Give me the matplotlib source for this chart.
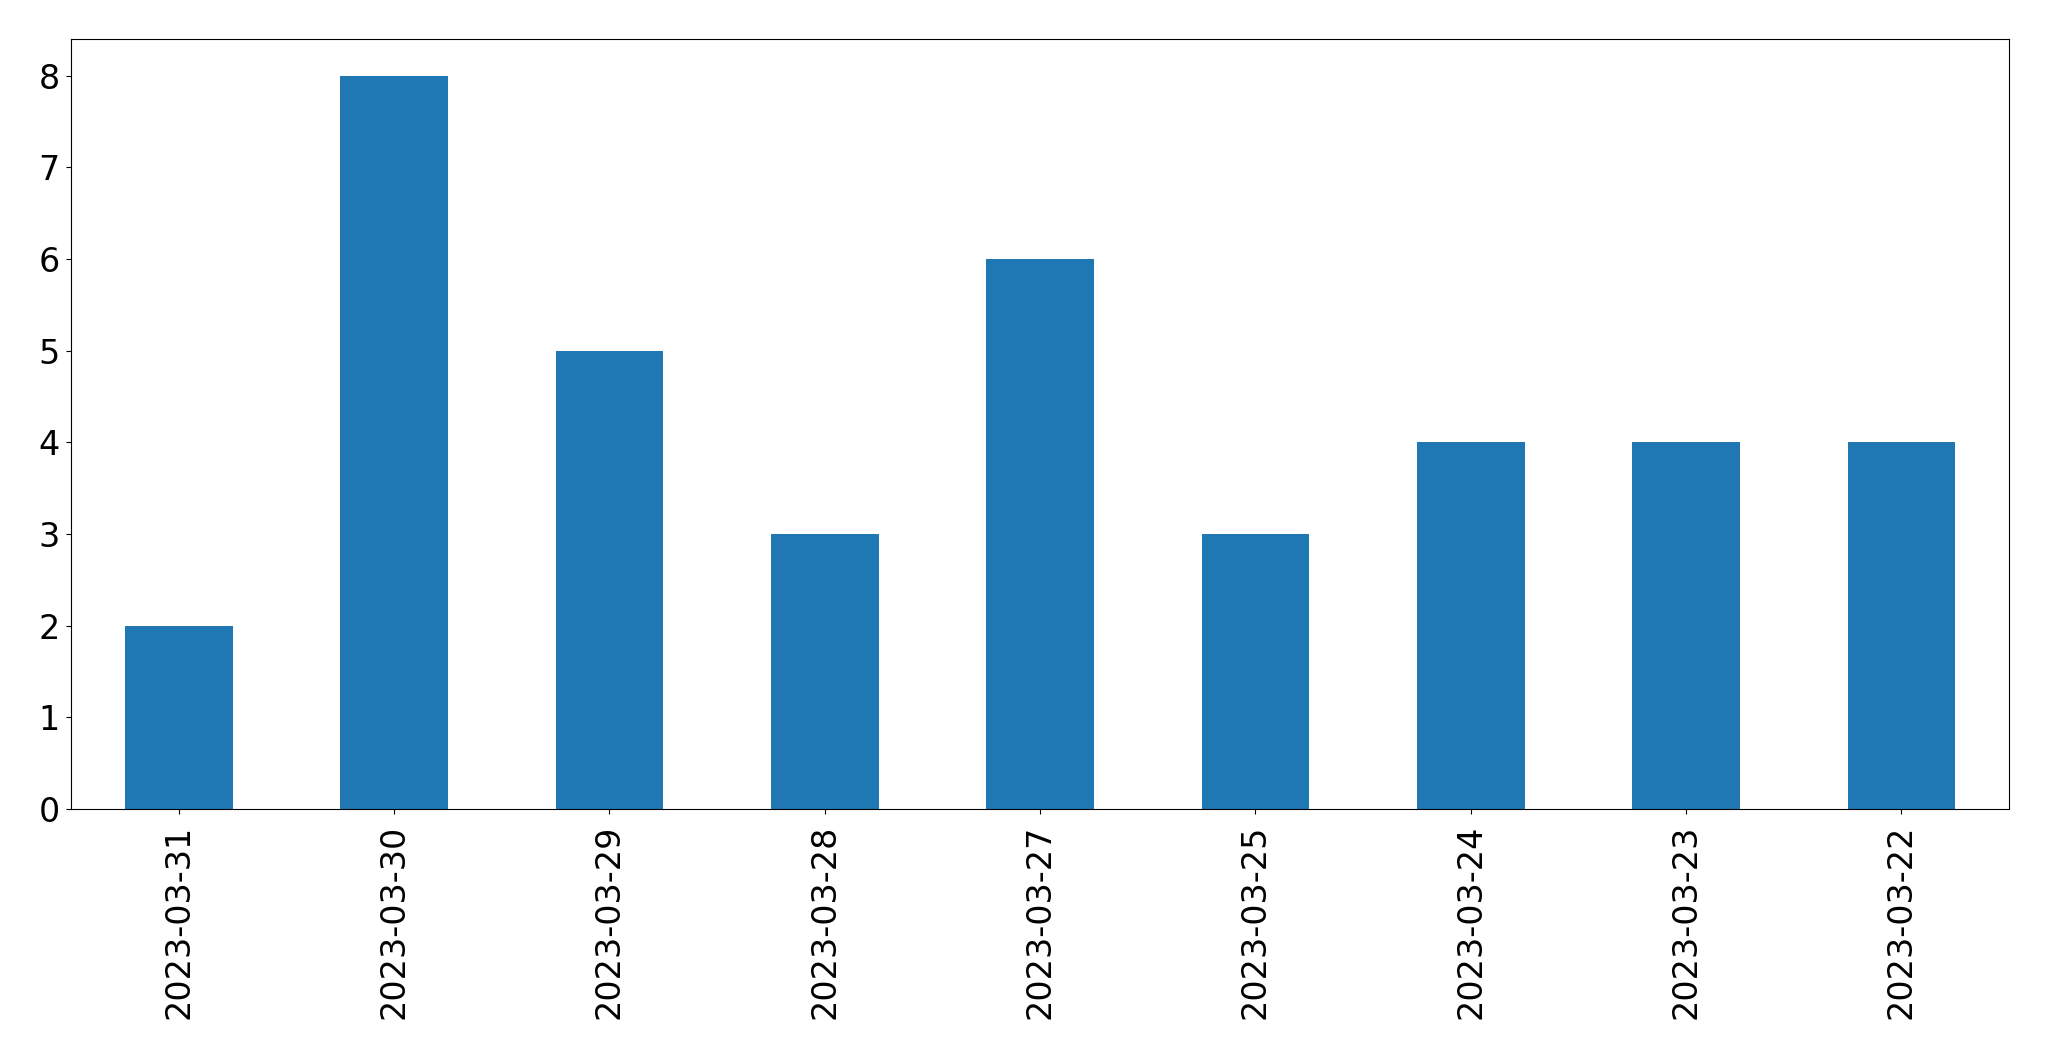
import matplotlib
matplotlib.use("Agg")
import matplotlib.pyplot as plt
import pandas as pd

# dane
dates = ["2023-03-31", "2023-03-30", "2023-03-29", "2023-03-28", "2023-03-27",
         "2023-03-25", "2023-03-24", "2023-03-23", "2023-03-22"]
counts = [2, 8, 5, 3, 6, 3, 4, 4, 4]

s = pd.Series(counts, index=dates)

fig = plt.figure(figsize=(20.49, 10.61), dpi=100)
ax = fig.add_axes([0.0347, 0.2375, 0.9458, 0.7257])
s.plot(kind="bar", ax=ax, color="#1f77b4", width=0.5)
ax.tick_params(axis="both", labelsize=24)
ax.tick_params(axis="x", pad=7.5)
ax.tick_params(axis="y", pad=4.5)
ax.set_xlabel("")
fig.savefig("out.png", dpi=100)
